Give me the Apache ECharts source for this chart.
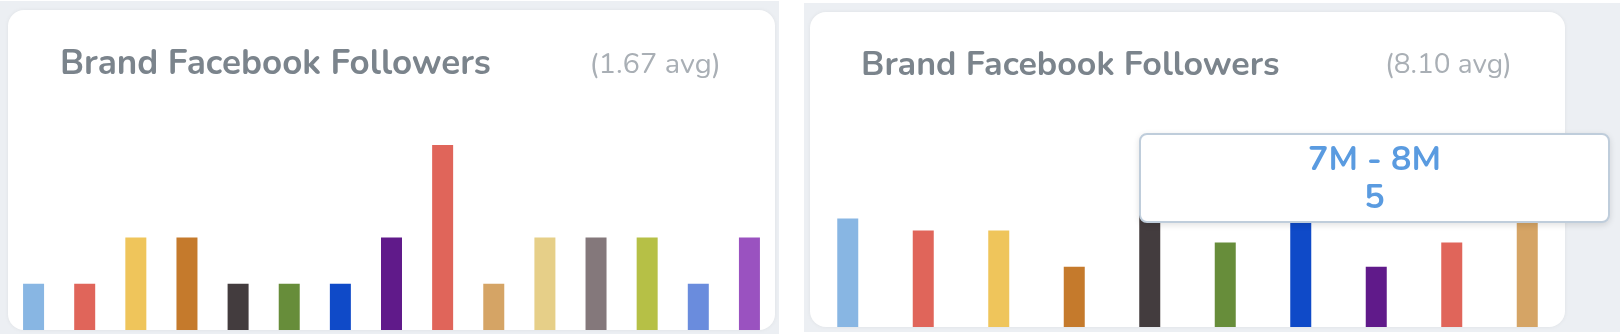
<!DOCTYPE html>
<html>
<head>
<meta charset="utf-8">
<script src="https://cdn.jsdelivr.net/npm/echarts@6/dist/echarts.min.js"></script>
<style>
  html, body { margin: 0; padding: 0; background: #ffffff; }
  #chart { width: 1620px; height: 334px; }
</style>
</head>
<body>
<div id="chart"></div>
<script>
// ---- data ----
const titleText = 'Brand Facebook Followers';

const leftCategories = ['0 - 1M', '1M - 2M', '2M - 3M', '3M - 4M', '4M - 5M', '5M - 6M', '6M - 7M', '7M - 8M',
  '8M - 9M', '9M - 10M', '10M - 11M', '11M - 12M', '12M - 13M', '13M - 14M', '14M - 15M'];
const leftValues = [1, 1, 2, 2, 1, 1, 1, 2, 4, 1, 2, 2, 2, 1, 2];

const rightCategories = ['0 - 1M', '1M - 2M', '2M - 3M', '3M - 4M', '4M - 5M', '5M - 6M', '6M - 7M', '7M - 8M',
  '8M - 9M', '9M - 10M'];
const rightValues = [9, 8, 8, 5, 11, 7, 11, 5, 7, 10];

const palette = ['#88b6e3', '#e0655a', '#efc55b', '#c57a2c', '#433c3e', '#678d3a', '#0f4ac8', '#601a8a',
  '#e0655a', '#d5a465', '#e6cf88', '#84787b', '#b6c046', '#6a8cdd', '#9a52c0'];

const hoveredIndex = 7;

// ---- helpers ----
function avgText(vals) {
  const s = vals.reduce((a, b) => a + b, 0);
  return '(' + (s / vals.length).toFixed(2) + ' avg)';
}
function coloredData(vals) {
  return vals.map((v, i) => ({ value: v, itemStyle: { color: palette[i % palette.length] } }));
}

const FONT = 'Nunito, Lato, "Noto Sans", sans-serif';
const chart = echarts.init(document.getElementById('chart'), null, { renderer: 'canvas' });

const option = {
  animation: false,
  graphic: [
    // screenshot backgrounds
    { type: 'rect', z: 0, shape: { x: 0, y: 1, width: 779, height: 333 }, style: { fill: '#eceff3' } },
    { type: 'rect', z: 0, shape: { x: 804, y: 3, width: 816, height: 329 }, style: { fill: '#eceff3' } },
    // cards
    { type: 'rect', z: 1, shape: { x: 8, y: 10, width: 767, height: 320, r: 16 },
      style: { fill: '#ffffff', shadowBlur: 4, shadowColor: 'rgba(0,0,0,0.06)' } },
    { type: 'rect', z: 1, shape: { x: 810, y: 12, width: 755, height: 315, r: 16 },
      style: { fill: '#ffffff', shadowBlur: 4, shadowColor: 'rgba(0,0,0,0.06)' } },
    // titles
    { type: 'text', z: 5, x: 60, y: 66,
      style: { text: titleText, fill: '#7b848c', font: 'bold 35px ' + FONT, verticalAlign: 'middle', align: 'left' } },
    { type: 'text', z: 5, x: 721, y: 66,
      style: { text: avgText(leftValues), fill: '#a9afb5', font: '29px ' + FONT, verticalAlign: 'middle', align: 'right' } },
    { type: 'text', z: 5, x: 861, y: 67,
      style: { text: titleText, fill: '#7b848c', font: 'bold 34px ' + FONT, verticalAlign: 'middle', align: 'left' } },
    { type: 'text', z: 5, x: 1512, y: 66,
      style: { text: avgText(rightValues), fill: '#a9afb5', font: '28px ' + FONT, verticalAlign: 'middle', align: 'right' } }
  ],
  grid: [
    { left: 8, top: 145, width: 767, height: 185 },
    { left: 810, top: 146, width: 755, height: 181 }
  ],
  xAxis: [
    { type: 'category', gridIndex: 0, data: leftCategories, show: false },
    { type: 'category', gridIndex: 1, data: rightCategories, show: false }
  ],
  yAxis: [
    { type: 'value', gridIndex: 0, min: 0, max: 4, show: false },
    { type: 'value', gridIndex: 1, min: 0, max: 15, show: false }
  ],
  tooltip: {
    trigger: 'item',
    alwaysShowContent: true,
    transitionDuration: 0,
    showDelay: 0,
    backgroundColor: '#ffffff',
    borderColor: '#bfcddb',
    borderWidth: 2,
    padding: 0,
    extraCssText: 'border-radius:8px; box-shadow:0 2px 6px rgba(0,0,0,0.12); width:467px; height:86px; box-sizing:content-box;',
    position: function () { return [1139, 133]; },
    formatter: function (p) {
      return '<div style="text-align:center;font-family:' + FONT.replace(/"/g, "'") +
        ';font-weight:bold;font-size:34px;line-height:38px;color:#5a9be0;padding-top:5px;">' +
        p.name + '<br>' + p.value + '</div>';
    }
  },
  series: [
    { type: 'bar', xAxisIndex: 0, yAxisIndex: 0, barWidth: 21, data: coloredData(leftValues), silent: true, tooltip: { show: false } },
    { type: 'bar', xAxisIndex: 1, yAxisIndex: 1, barWidth: 21, data: coloredData(rightValues) }
  ]
};

chart.setOption(option);
chart.dispatchAction({ type: 'showTip', seriesIndex: 1, dataIndex: hoveredIndex });
</script>
</body>
</html>
